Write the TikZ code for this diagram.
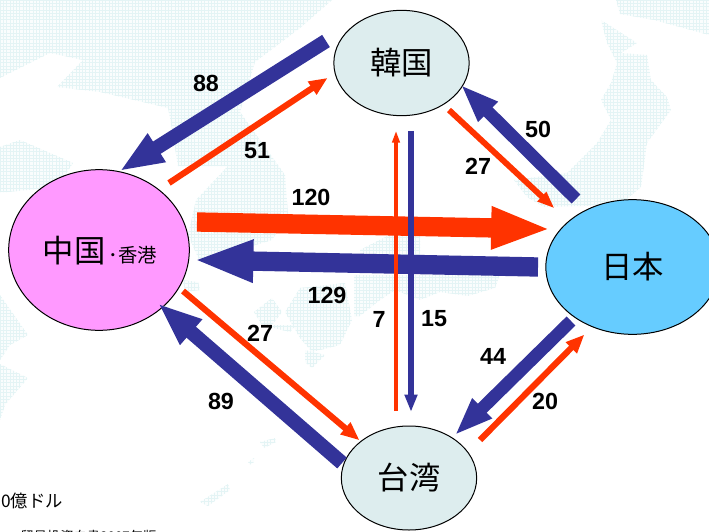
\documentclass[tikz,border=0pt]{standalone}
\usepackage{fontspec}
\setmainfont{Liberation Sans}
\newfontfamily\cjk{Noto Sans CJK JP}
\usetikzlibrary{arrows.meta,shapes.geometric}
\definecolor{flowblue}{HTML}{333399}
\definecolor{flowred}{HTML}{FF3300}
\definecolor{mapgrid}{HTML}{E4F4F5}
\definecolor{mapland}{HTML}{FAFDFD}

\begin{document}
\begin{tikzpicture}[x=0.75pt,y=-0.75pt,
        country/.style={ellipse,draw=black,line width=0.75pt,inner sep=0pt,font=\cjk\fontsize{23.5}{25}\selectfont},
        amount/.style={font=\bfseries\fontsize{17.5}{19}\selectfont,inner sep=0pt},
        note/.style={font=\cjk\fontsize{13}{15}\selectfont,inner sep=0pt,anchor=west},
        flowhuge/.style={line width=14.5pt,shorten >=-3.5pt,-{Triangle[length=45pt,width=29pt]}},
        flowbig/.style={line width=10.8pt,shorten >=-3pt,-{Triangle[length=33pt,width=23pt]}},
        flowmid/.style={line width=9.5pt,shorten >=-2.5pt,-{Triangle[length=29pt,width=19pt]}},
        flowthin/.style={line width=4.6pt,shorten >=-1.5pt,-{Triangle[length=14pt,width=11pt]}},
        flowslim/.style={line width=4.4pt,shorten >=-1.5pt,-{Triangle[length=13pt,width=9pt]}},
        flowtiny/.style={line width=3pt,shorten >=-1pt,-{Triangle[length=9pt,width=5.5pt]}}
    ]
    \useasboundingbox (0,0) rectangle (709,531);
    \clip (0,0) rectangle (709,531);

    % --- Map behind the flows ---
    \begin{scope}
        \clip (0,0) -- (332,0) -- (300,28) -- (255,62) -- (240,112) -- (285,175) -- (288,215)
            -- (272,240) -- (200,262) -- (188,235) -- (196,200) -- (228,166) -- (178,166)
            -- (170,118) -- (168,108) -- (100,92) -- (57,87) -- (83,60) -- (50,53) -- (0,78) -- cycle
            (0,147) -- (20,140) -- (73,163) -- (57,187) -- (7,192) -- (0,192) -- cycle
            (616,0) -- (709,0) -- (709,35) -- (654,20) -- (620,14) -- cycle
            (601,20) -- (637,43) -- (621,53) -- (647,55) -- (651,80) -- (667,97) -- (671,110) -- (647,143)
            -- (641,187) -- (620,205) -- (544,207) -- (527,197) -- (514,180) -- (567,173) -- (597,143)
            -- (611,120) -- (601,100) -- (611,83) -- (617,63) -- (607,43) -- cycle
            (360,250) -- (395,232) -- (420,235) -- (420,256) -- (360,256) -- cycle
            (354,275) -- (500,275) -- (495,288) -- (468,296) -- (440,292) -- (420,300) -- (395,290) -- (380,300)
            -- (360,316) -- (354,316) -- cycle
            (300,288) -- (345,283) -- (352,320) -- (340,345) -- (312,352) -- (300,338) -- (285,312) -- cycle
            (254,312) -- (272,298) -- (282,312) -- (272,325) -- (296,325) -- (290,332) -- (262,325) -- cycle
            (182,280) -- (198,282) -- (200,290) -- (186,292) -- cycle
            (0,295) -- (28,335) -- (10,345) -- (0,360) -- cycle
            (0,364) -- (28,378) -- (5,405) -- (0,420) -- cycle
            (200,502) -- (228,484) -- (230,490) -- (208,506) -- cycle
            (260,442) -- (275,438) -- (276,442) -- (264,448) -- cycle
            (305,350) -- (325,355) -- (312,368) -- (305,362) -- cycle
            (248,462) -- (254,458) -- (254,462) -- (250,465) -- cycle;
        \fill[mapland] (0,0) rectangle (709,531);
        \foreach \gx in {0,3.3,...,709} \draw[mapgrid,line width=0.5pt] (\gx,0) -- (\gx,531);
        \foreach \gy in {0,3.3,...,531} \draw[mapgrid,line width=0.5pt] (0,\gy) -- (709,\gy);
    \end{scope}

    % --- Countries ---
    \node[country,fill={rgb,255:red,255;green,153;blue,255},minimum width=135.5pt,minimum height=120.5pt] (china) at (99,250) {};
    \node[inner sep=0pt,font=\cjk] (chinalabel) at (100,251) {\fontsize{23.5}{25}\selectfont 中国\fontsize{14.5}{16}\selectfont\,･香港};
    \node[country,fill={rgb,255:red,221;green,237;blue,238},minimum width=101.5pt,minimum height=79pt] (korea) at (401.5,63) {韓国};
    \node[country,fill={rgb,255:red,102;green,204;blue,255},minimum width=130pt,minimum height=101pt] (japan) at (632.5,267) {日本};
    \node[country,fill={rgb,255:red,221;green,237;blue,238},minimum width=101.5pt,minimum height=78pt] (taiwan) at (409,478) {台湾};

    % --- Flows around China ---
    \draw[flowhuge,flowred] ([shift={(98,-28)}]china.center) -- ([shift={(-86,-38)}]japan.center);
    \draw[flowhuge,flowblue] ([shift={(-94.5,0)}]japan.center) -- ([shift={(99,10)}]china.center);
    \draw[flowbig,flowblue] ([shift={(-75.5,-22)}]korea.center) -- ([shift={(24,-81)}]china.center);
    \draw[flowthin,flowred] ([shift={(70,-67)}]china.center) -- ([shift={(-75.5,16)}]korea.center);
    \draw[flowthin,flowred] ([shift={(84,41)}]china.center) -- ([shift={(-51,-39)}]taiwan.center);
    \draw[flowbig,flowblue] ([shift={(-67,-15)}]taiwan.center) -- ([shift={(62,56)}]china.center);

    % --- Flows around Japan ---
    \draw[flowmid,flowblue] ([shift={(-56.5,-68)}]japan.center) -- ([shift={(61.5,24)}]korea.center);
    \draw[flowslim,flowred] ([shift={(47.5,47)}]korea.center) -- ([shift={(-79.5,-60)}]japan.center);
    \draw[flowmid,flowblue] ([shift={(-61.5,54)}]japan.center) -- ([shift={(48,-45)}]taiwan.center);
    \draw[flowthin,flowred] ([shift={(71,-38)}]taiwan.center) -- ([shift={(-49.5,69)}]japan.center);

    % --- Flows between Korea and Taiwan ---
    \draw[flowtiny,flowred] ([shift={(-13,-67)}]taiwan.center) -- ([shift={(-5.5,69)}]korea.center);
    \draw[flowslim,flowblue] ([shift={(9.5,68)}]korea.center) -- ([shift={(2,-68)}]taiwan.center);

    % --- Amounts ---
    \node[amount] (krcn) at (206,83) {88};
    \node[amount] (cnkr) at (257,151) {51};
    \node[amount] (cnjp) at (311,197) {120};
    \node[amount] (jpcn) at (327,295) {129};
    \node[amount] (jpkr) at (538,129) {50};
    \node[amount] (krjp) at (478,166) {27};
    \node[amount] (twkr) at (379,319) {7};
    \node[amount] (krtw) at (434,319) {15};
    \node[amount] (cntw) at (260,333) {27};
    \node[amount] (twcn) at (221,401) {89};
    \node[amount] (jptw) at (493,356) {44};
    \node[amount] (twjp) at (545,401) {20};

    % --- Notes cut by the page edge ---
    \node[note] (unit) at (1,501) {0億ドル};
    \node[note,font=\cjk\fontsize{10}{12}\selectfont] (source) at (20,536) {貿易投資白書2007年版};
\end{tikzpicture}
\end{document}
